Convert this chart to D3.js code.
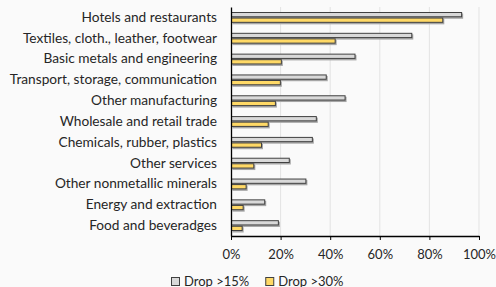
<!DOCTYPE html>
<html>
<head>
<meta charset="utf-8">
<script src="https://cdn.jsdelivr.net/npm/d3@7"></script>
<style>
  body { margin: 0; background: #fafafa; }
  text { font-family: Lato, "Open Sans", sans-serif; fill: #262626; }
</style>
</head>
<body>
<div id="viz"></div>
<script>
const sectors = [
  "Hotels and restaurants",
  "Textiles, cloth., leather, footwear",
  "Basic metals and engineering",
  "Transport, storage, communication",
  "Other manufacturing",
  "Wholesale and retail trade",
  "Chemicals, rubber, plastics",
  "Other services",
  "Other nonmetallic minerals",
  "Energy and extraction",
  "Food and beveradges"
];
const drop15 = [93, 72.9, 50, 38.4, 46, 34.4, 32.8, 23.5, 30.2, 13.6, 19.1];
const drop30 = [85.4, 42, 20.3, 19.9, 17.9, 15, 12.3, 9.2, 6.1, 4.9, 4.5];
const seriesNames = ["Drop >15%", "Drop >30%"];
const xTicks = [0, 20, 40, 60, 80, 100];

const colors = { "Drop >15%": "#d9d9d9", "Drop >30%": "#ffd966" };

const margin = {top: 7, right: 17, bottom: 51, left: 231},
  W = 496, H = 287,
  width = W - margin.left - margin.right,
  height = H - margin.top - margin.bottom;

const svg = d3.select("#viz").append("svg")
  .attr("width", W).attr("height", H);

svg.append("rect").attr("width", W).attr("height", H).attr("fill", "#fafafa");

const g = svg.append("g")
  .attr("transform", "translate(" + margin.left + "," + margin.top + ")");

const x = d3.scaleLinear().domain([0, 100]).range([0, width]);
const y = d3.scaleBand().domain(sectors).range([0, height]).paddingInner(0.48).paddingOuter(0.24);
const ySub = d3.scaleBand().domain(seriesNames).range([0, y.bandwidth()]).paddingInner(0.05);

// grid
g.append("g").selectAll("line")
  .data(xTicks.slice(1))
  .enter().append("line")
  .attr("x1", d => x(d)).attr("x2", d => x(d))
  .attr("y1", 0).attr("y2", height)
  .attr("stroke", "#e3e3e3").attr("stroke-width", 1);

const rows = sectors.map((s, i) => ({ sector: s, values: [drop15[i], drop30[i]] }));

const rowG = g.append("g").selectAll("g")
  .data(rows).enter().append("g")
  .attr("transform", d => "translate(0," + y(d.sector) + ")");

// shadow
rowG.selectAll("rect.shadow")
  .data(d => d.values.map((v, k) => ({ key: seriesNames[k], v: v })))
  .enter().append("rect")
  .attr("class", "shadow")
  .attr("x", 1.5).attr("y", d => ySub(d.key) + 1.5)
  .attr("width", d => x(d.v))
  .attr("height", ySub.bandwidth())
  .attr("fill", "#a6a6a6");

rowG.selectAll("rect.bar")
  .data(d => d.values.map((v, k) => ({ key: seriesNames[k], v: v })))
  .enter().append("rect")
  .attr("class", "bar")
  .attr("x", 0.5).attr("y", d => ySub(d.key) + 0.5)
  .attr("width", d => x(d.v) - 0.5)
  .attr("height", ySub.bandwidth() - 1)
  .attr("fill", d => colors[d.key])
  .attr("stroke", "#404040").attr("stroke-width", 1);

// axes
const yAxis = g.append("g").call(d3.axisLeft(y).tickSize(0).tickPadding(14));
yAxis.select(".domain").attr("stroke", "#000").attr("stroke-width", 1.3);
yAxis.selectAll("text").style("font-size", "13.7px").attr("fill", "#262626");

const xAxis = g.append("g")
  .attr("transform", "translate(0," + height + ")")
  .call(d3.axisBottom(x).tickValues(xTicks).tickFormat(d => d + "%").tickSize(4).tickSizeOuter(0).tickPadding(10));
xAxis.select(".domain").attr("stroke", "#000").attr("stroke-width", 1.3);
xAxis.selectAll("line").attr("stroke", "#000");
xAxis.selectAll("text").style("font-size", "13px").attr("fill", "#262626");

// legend
const legend = svg.append("g").attr("transform", "translate(171,277)");
let lx = 0;
legend.selectAll("g").data(seriesNames).enter().append("g")
  .each(function(d) {
    const it = d3.select(this).attr("transform", "translate(" + lx + ",0)");
    it.append("rect").attr("x", 0.5).attr("y", 0.5).attr("width", 8).attr("height", 8)
      .attr("fill", colors[d]).attr("stroke", "#404040");
    const t = it.append("text").attr("x", 13).attr("y", 8.5).style("font-size", "13px").text(d);
    lx += 13 + t.node().getComputedTextLength() + 16;
  });
</script>
</body>
</html>
